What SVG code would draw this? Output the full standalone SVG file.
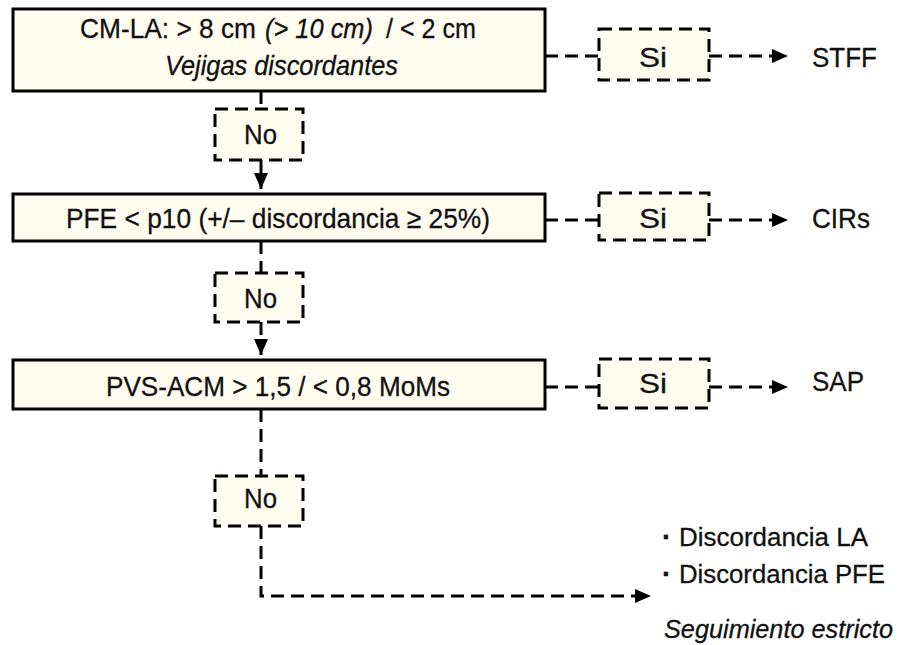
<svg xmlns="http://www.w3.org/2000/svg" width="900" height="645" viewBox="0 0 900 645">
<defs>
<style>
.box{fill:#fffdf0;stroke:#000;stroke-width:3}
.dbox{fill:#fffdf0;stroke:#000;stroke-width:3;stroke-dasharray:13 7}
.con{fill:none;stroke:#000;stroke-width:3;stroke-dasharray:13 7}
.t{font-family:"Liberation Sans",Arial,sans-serif;font-size:28px;fill:#111;stroke:#111;stroke-width:0.3}
.s{font-size:26px}
.c{text-anchor:middle}
.i{font-style:italic}
</style>
<marker id="ah" markerUnits="userSpaceOnUse" markerWidth="17" markerHeight="16" refX="16" refY="8" orient="auto">
<path d="M0,1 L16,8 L0,15 Z" fill="#000"/>
</marker>
</defs>
<rect width="900" height="645" fill="#fff"/>
<g id="connectors">
<path class="con" d="M261,91 V109"/>
<path class="con" d="M261,160 V189" marker-end="url(#ah)"/>
<path class="con" d="M261,241 V273"/>
<path class="con" d="M261,322 V355" marker-end="url(#ah)"/>
<path class="con" d="M261,409 V476"/>
<path class="con" d="M261,526 V596 H651" marker-end="url(#ah)"/>
<path class="con" d="M545,56 H599"/>
<path class="con" d="M709,56 H788" marker-end="url(#ah)"/>
<path class="con" d="M545,220 H599"/>
<path class="con" d="M709,220 H788" marker-end="url(#ah)"/>
<path class="con" d="M545,387 H599"/>
<path class="con" d="M709,387 H788" marker-end="url(#ah)"/>
</g>
<g id="box1">
<rect class="box" x="13" y="9" width="532" height="82"/>
<text class="t" x="80" y="38" textLength="176" lengthAdjust="spacingAndGlyphs">CM-LA: &gt; 8 cm</text>
<text class="t i" x="265" y="38" textLength="108" lengthAdjust="spacingAndGlyphs">(&gt; 10 cm)</text>
<text class="t" x="386" y="38" textLength="90" lengthAdjust="spacingAndGlyphs">/ &lt; 2 cm</text>
<text class="t i" x="165" y="75" textLength="233" lengthAdjust="spacingAndGlyphs">Vejigas discordantes</text>
</g>
<g id="box2">
<rect class="box" x="13" y="194" width="532" height="47"/>
<text class="t" x="66" y="228" textLength="424" lengthAdjust="spacingAndGlyphs">PFE &lt; p10 (+/– discordancia ≥ 25%)</text>
</g>
<g id="box3">
<rect class="box" x="13" y="360" width="532" height="49"/>
<text class="t" x="106" y="396" textLength="344" lengthAdjust="spacingAndGlyphs">PVS-ACM &gt; 1,5 / &lt; 0,8 MoMs</text>
</g>
<g id="no1">
<rect class="dbox" x="215" y="109" width="88" height="51"/>
<text class="t" x="244" y="144" textLength="33" lengthAdjust="spacingAndGlyphs">No</text>
</g>
<g id="no2">
<rect class="dbox" x="215" y="273" width="88" height="49"/>
<text class="t" x="244" y="308" textLength="33" lengthAdjust="spacingAndGlyphs">No</text>
</g>
<g id="no3">
<rect class="dbox" x="215" y="476" width="88" height="50"/>
<text class="t" x="244" y="508" textLength="33" lengthAdjust="spacingAndGlyphs">No</text>
</g>
<g id="si1">
<rect class="dbox" x="599" y="29" width="110" height="51"/>
<text class="t" x="639" y="67" textLength="28" lengthAdjust="spacingAndGlyphs">Si</text>
</g>
<g id="si2">
<rect class="dbox" x="599" y="193" width="110" height="47"/>
<text class="t" x="639" y="228" textLength="28" lengthAdjust="spacingAndGlyphs">Si</text>
</g>
<g id="si3">
<rect class="dbox" x="599" y="359" width="110" height="49"/>
<text class="t" x="639" y="393" textLength="28" lengthAdjust="spacingAndGlyphs">Si</text>
</g>
<g id="stff"><text class="t" x="812" y="67" textLength="65" lengthAdjust="spacingAndGlyphs">STFF</text></g>
<g id="cirs"><text class="t" x="812" y="228" textLength="58" lengthAdjust="spacingAndGlyphs">CIRs</text></g>
<g id="sap"><text class="t" x="812" y="391" textLength="52" lengthAdjust="spacingAndGlyphs">SAP</text></g>
<g id="outcome">
<text class="t" x="662" y="546" font-weight="bold">·</text>
<text class="t s" x="679" y="546" textLength="189" lengthAdjust="spacingAndGlyphs">Discordancia LA</text>
<text class="t" x="662" y="583" font-weight="bold">·</text>
<text class="t s" x="679" y="583" textLength="206" lengthAdjust="spacingAndGlyphs">Discordancia PFE</text>
<text class="t i" x="664" y="638" font-size="25.5px" style="font-size:25.5px" textLength="229" lengthAdjust="spacingAndGlyphs">Seguimiento estricto</text>
</g>
</svg>
